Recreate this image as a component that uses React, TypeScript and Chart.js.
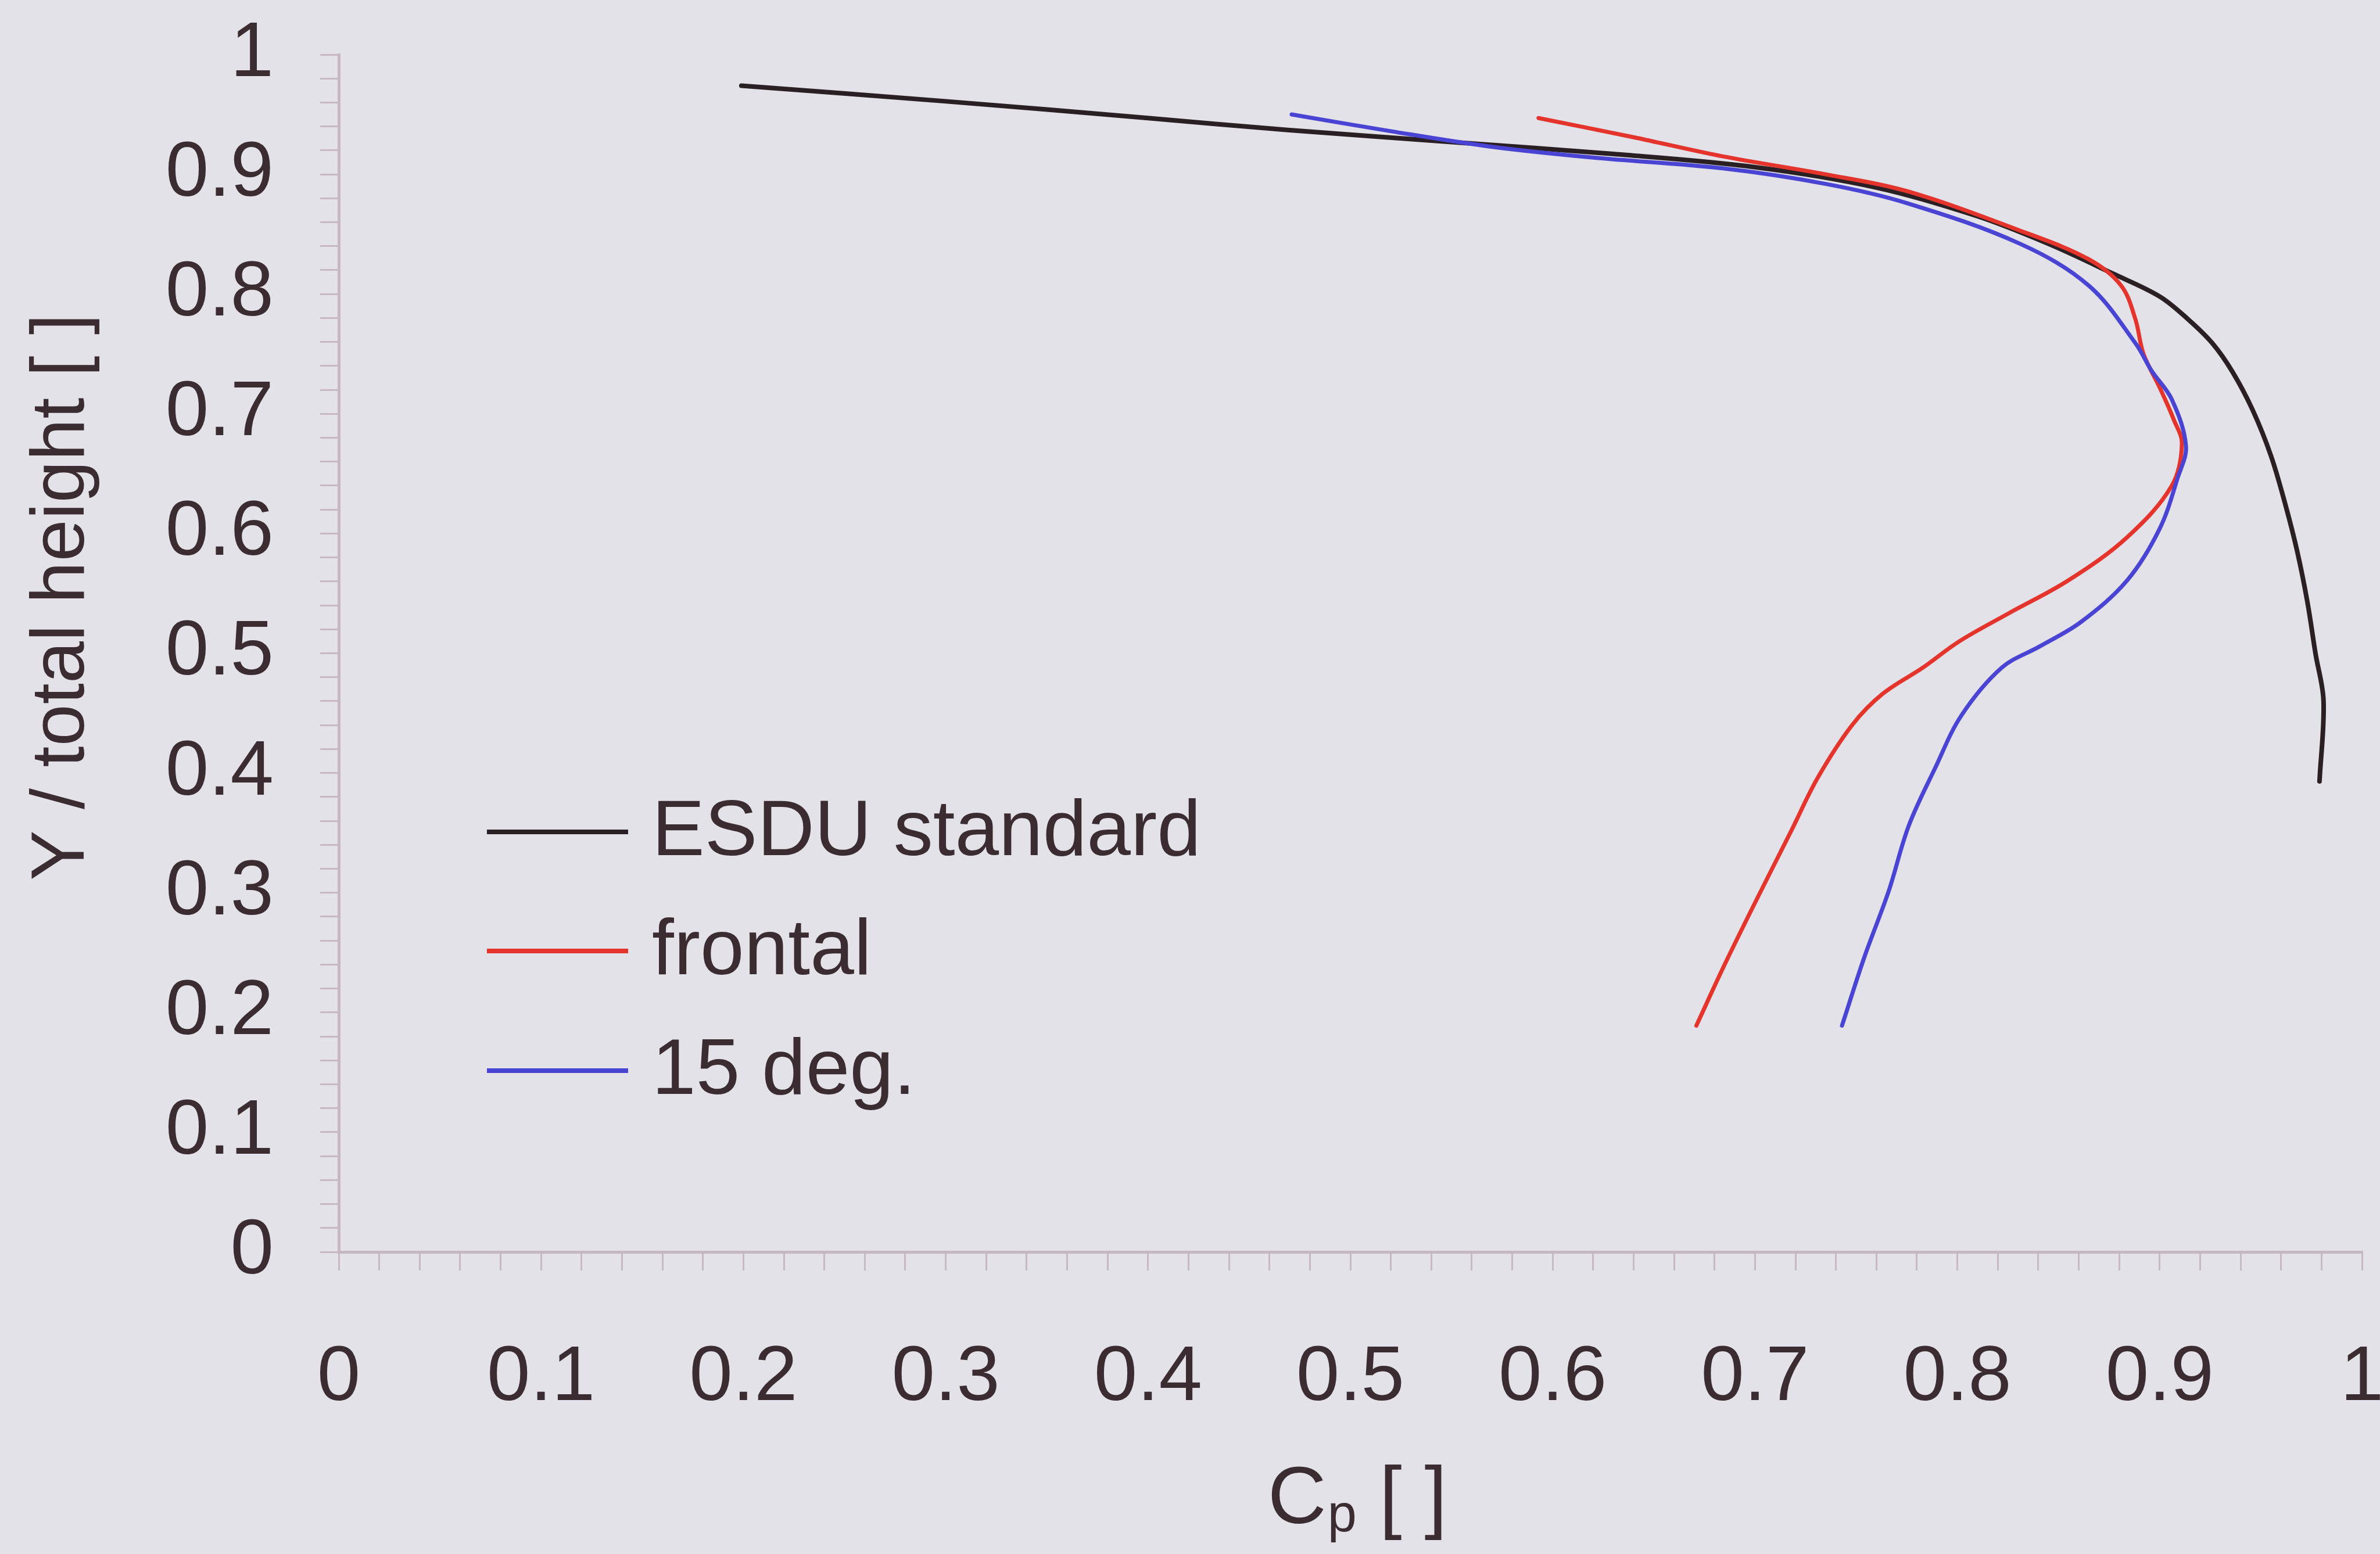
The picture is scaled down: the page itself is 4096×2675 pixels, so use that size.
import React, { useEffect, useRef } from "react";
import { Chart, registerables } from "chart.js";

Chart.register(...registerables);

// ---- data ----
const esduCp = [0.199, 0.3, 0.4, 0.469, 0.55, 0.63, 0.7, 0.76, 0.81, 0.845, 0.877, 0.9, 0.914, 0.926, 0.936, 0.946, 0.955, 0.962, 0.968, 0.973, 0.977, 0.981, 0.979];
const esduY = [0.974, 0.961, 0.947, 0.937, 0.927, 0.917, 0.906, 0.889, 0.865, 0.842, 0.817, 0.798, 0.779, 0.759, 0.735, 0.703, 0.665, 0.625, 0.585, 0.543, 0.5, 0.46, 0.393];

const frontalCp = [0.593, 0.64, 0.684, 0.735, 0.775, 0.831, 0.865, 0.881, 0.888, 0.892, 0.9, 0.907, 0.911, 0.906, 0.884, 0.855, 0.825, 0.801, 0.783, 0.763, 0.748, 0.731, 0.718, 0.701, 0.685, 0.671];
const frontalY = [0.947, 0.931, 0.915, 0.9, 0.886, 0.853, 0.829, 0.807, 0.779, 0.75, 0.722, 0.695, 0.675, 0.64, 0.597, 0.561, 0.533, 0.51, 0.488, 0.466, 0.44, 0.396, 0.352, 0.295, 0.24, 0.189];

const deg15Cp = [0.471, 0.52, 0.57, 0.62, 0.684, 0.735, 0.775, 0.831, 0.865, 0.888, 0.896, 0.906, 0.913, 0.909, 0.9, 0.884, 0.861, 0.841, 0.822, 0.802, 0.789, 0.776, 0.766, 0.754, 0.743];
const deg15Y = [0.95, 0.936, 0.923, 0.914, 0.905, 0.892, 0.876, 0.842, 0.807, 0.759, 0.736, 0.712, 0.673, 0.647, 0.604, 0.561, 0.526, 0.506, 0.488, 0.448, 0.404, 0.356, 0.301, 0.246, 0.189];

const seriesLabels = ["ESDU standard", "frontal", "15 deg."];
const seriesColors = ["#2a2024", "#e4342c", "#4a44d4"];
const xTitleParts = ["C", "p", " [ ]"];
const yTitle = "Y / total height [ ]";

// ---- layout / style ----
const W = 4140;
const H = 2675;
const AREA_LEFT = 583;
const AREA_RIGHT = 4065;
const AREA_TOP = 94;
const AREA_BOTTOM = 2155;
const FONT = '"Liberation Sans", Arial, Helvetica, sans-serif';
const TEXT = "#3a2c30";
const BG = "#e4e2e9";
const AXIS = "#c6b8c2";
const TICK = "#c6b9c3";

const toPoints = (xs: number[], ys: number[]) => xs.map((x, i) => ({ x, y: ys[i] }));

const fmt = (v: number | string) => {
  const n = Number(v);
  if (Math.abs(n * 10 - Math.round(n * 10)) < 1e-6) {
    return String(Number(n.toFixed(1)));
  }
  return "";
};

const decorPlugin = {
  id: "decor",
  beforeDraw(chart: any) {
    const ctx = chart.ctx;
    ctx.save();
    ctx.fillStyle = BG;
    ctx.fillRect(0, 0, chart.width, chart.height);
    ctx.restore();
  },
  afterDraw(chart: any) {
    const ctx = chart.ctx;
    ctx.save();
    ctx.fillStyle = TEXT;
    // y title
    ctx.save();
    ctx.translate(144, 1028);
    ctx.rotate(-Math.PI / 2);
    ctx.font = `130px ${FONT}`;
    ctx.textAlign = "center";
    ctx.textBaseline = "alphabetic";
    ctx.fillText(yTitle, 0, 0);
    ctx.restore();

    // x title with subscript
    const big = `140px ${FONT}`;
    const small = `90px ${FONT}`;
    ctx.textAlign = "left";
    ctx.textBaseline = "alphabetic";
    ctx.font = big;
    const w0 = ctx.measureText(xTitleParts[0]).width;
    const w2 = ctx.measureText(xTitleParts[2]).width;
    ctx.font = small;
    const w1 = ctx.measureText(xTitleParts[1]).width;
    let x = 2335 - (w0 + w1 + w2) / 2;
    ctx.font = big;
    ctx.fillText(xTitleParts[0], x, 2622);
    x += w0;
    ctx.font = small;
    ctx.fillText(xTitleParts[1], x + 2, 2636);
    x += w1 + 2;
    ctx.font = big;
    ctx.fillText(xTitleParts[2], x, 2622);

    // legend
    const rows = [1432, 1637, 1843];
    chart.data.datasets.forEach((ds: any, i: number) => {
      ctx.strokeStyle = ds.borderColor;
      ctx.lineWidth = 8;
      ctx.beginPath();
      ctx.moveTo(838, rows[i]);
      ctx.lineTo(1081, rows[i]);
      ctx.stroke();
      ctx.fillStyle = TEXT;
      ctx.font = `136px ${FONT}`;
      ctx.textAlign = "left";
      ctx.textBaseline = "middle";
      ctx.fillText(ds.label, 1122, rows[i] + 2);
    });
    ctx.restore();
  },
};

export default function App() {
  const ref = useRef<HTMLCanvasElement | null>(null);

  useEffect(() => {
    if (!ref.current) return;
    const axisCommon = (size: number, pad: number) => ({
      type: "linear" as const,
      min: 0,
      max: 1,
      ticks: {
        stepSize: 0.02,
        autoSkip: false,
        maxRotation: 0,
        minRotation: 0,
        color: TEXT,
        font: { family: FONT, size },
        padding: pad,
        callback: (v: any) => fmt(v),
      },
      grid: {
        drawOnChartArea: false,
        drawTicks: true,
        tickLength: 32,
        color: TICK,
        lineWidth: 3,
      },
      border: { display: true, color: AXIS, width: 5 },
    });

    const chart = new Chart(ref.current, {
      type: "line",
      data: {
        datasets: [
          {
            label: seriesLabels[0],
            data: toPoints(esduCp, esduY),
            borderColor: seriesColors[0],
            borderWidth: 8,
            order: 3,
          },
          {
            label: seriesLabels[1],
            data: toPoints(frontalCp, frontalY),
            borderColor: seriesColors[1],
            borderWidth: 7,
            order: 2,
          },
          {
            label: seriesLabels[2],
            data: toPoints(deg15Cp, deg15Y),
            borderColor: seriesColors[2],
            borderWidth: 7,
            order: 1,
          },
        ],
      },
      options: {
        responsive: false,
        maintainAspectRatio: false,
        animation: false,
        devicePixelRatio: 1,
        layout: { padding: { left: 0, right: W - AREA_RIGHT, top: AREA_TOP, bottom: 0 } },
        elements: {
          point: { radius: 0, hoverRadius: 0 },
          line: { tension: 0.35, fill: false, borderCapStyle: "round", borderJoinStyle: "round" },
        },
        plugins: { legend: { display: false }, tooltip: { enabled: false } },
        scales: {
          x: {
            ...axisCommon(134, 106),
            position: "bottom",
            afterFit: (s: any) => {
              s.height = H - AREA_BOTTOM;
              s.paddingLeft = 0;
              s.paddingRight = 0;
              s.paddingTop = 0;
              s.paddingBottom = 0;
            },
          },
          y: {
            ...axisCommon(134, 80),
            position: "left",
            afterFit: (s: any) => {
              s.width = AREA_LEFT;
              s.paddingLeft = 0;
              s.paddingRight = 0;
              s.paddingTop = 0;
              s.paddingBottom = 0;
            },
          },
        },
      } as any,
      plugins: [decorPlugin],
    });
    return () => chart.destroy();
  }, []);

  return (
    <div
      style={{
        position: "absolute",
        left: 0,
        top: 0,
        width: 4096,
        height: 2675,
        overflow: "hidden",
        background: BG,
      }}
    >
      <canvas ref={ref} width={W} height={H} style={{ width: W, height: H, display: "block" }} />
    </div>
  );
}
